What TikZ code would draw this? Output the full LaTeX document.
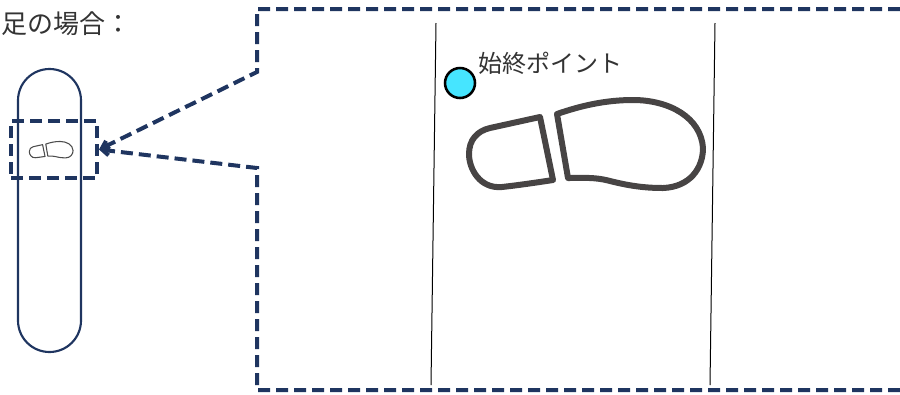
\documentclass[tikz,border=0pt]{standalone}
\usepackage{fontspec}
\newfontfamily\cjk{Noto Sans CJK JP}
\usetikzlibrary{arrows.meta}
\definecolor{navy}{HTML}{1F3560}
\definecolor{shoegray}{HTML}{474444}
\definecolor{startcyan}{HTML}{46E5FF}
\tikzset{
    zone/.style={draw=navy,line width=3pt,dash pattern=on 9pt off 4.5pt},
    lane/.style={draw=navy,line width=1.6pt},
    label/.style={font=\cjk\fontsize{18pt}{18pt}\selectfont,text=black!80,inner sep=0pt,anchor=west},
    pics/shoe/.style={code={
        \draw [pic actions] (-45,-26)-- (-32,37)
            .. controls (-45,39) and (-65,42) .. (-83,44)
            .. controls (-105,46) and (-116,26) .. (-116,11)
            .. controls (-116,-3) and (-108,-12) .. (-95,-15)-- cycle;
        \draw [pic actions] (-28,-29)-- (-17,35)
            .. controls (0,35) and (10,34) .. (25,38)
            .. controls (45,43) and (60,45) .. (78,45)
            .. controls (105,44) and (118,25) .. (118,5)
            .. controls (116,-25) and (85,-43) .. (48,-43)
            .. controls (20,-43) and (-5,-37) .. (-28,-29)-- cycle;
    }}
}
\begin{document}
\begin{tikzpicture}[line cap=butt,line join=miter,x=0.75pt,y=-0.75pt]
    \useasboundingbox (0,0) rectangle (900,394);
    % track and the zoomed area
    \node [lane,rectangle,rounded corners=23.6pt,minimum width=47.25pt,minimum height=212.25pt,inner sep=0pt] (track) at (49.5,210.5) {};
    \node [zone,rectangle,minimum width=64.5pt,minimum height=42.75pt,inner sep=0pt] (area) at (54,149.5) {};
    \pic [draw=black!70,line width=0.8pt,scale=0.187,line join=round] at (51,149.5) {shoe};
    % big frame
    \coordinate (topend) at (900,9);
    \coordinate (topcorner) at (257,9);
    \coordinate (topbend) at (257,72);
    \coordinate (bottombend) at (257,168);
    \coordinate (bottomcorner) at (257,390);
    \coordinate (bottomend) at (900,390);
    \draw [zone,-{Straight Barb[length=5pt,width=7pt]}] (topend)-- (topcorner)-- (topbend)-- (area.east);
    \draw [zone,-{Straight Barb[length=5pt,width=7pt]}] (bottomend)-- (bottomcorner)-- (bottombend)-- (area.east);
    % lane lines
    \coordinate (lefttop) at (436,23);
    \coordinate (leftbottom) at (431,385);
    \coordinate (righttop) at (715,23);
    \coordinate (rightbottom) at (710,385);
    \draw [line width=0.75pt] (lefttop)-- (leftbottom);
    \draw [line width=0.75pt] (righttop)-- (rightbottom);
    % foot and start point
    \pic [draw=shoegray,line width=4.5pt,line join=round] at (585,143) {shoe};
    \node [circle,draw=black,fill=startcyan,line width=1.9pt,minimum size=22.5pt,inner sep=0pt] (startpoint) at (460,83) {};
    \node [label] (startlabel) at (478,63) {始終ポイント};
    \node [label,font=\cjk\fontsize{19.5pt}{19.5pt}\selectfont] (title) at (1,24) {足の場合：};
\end{tikzpicture}
\end{document}
